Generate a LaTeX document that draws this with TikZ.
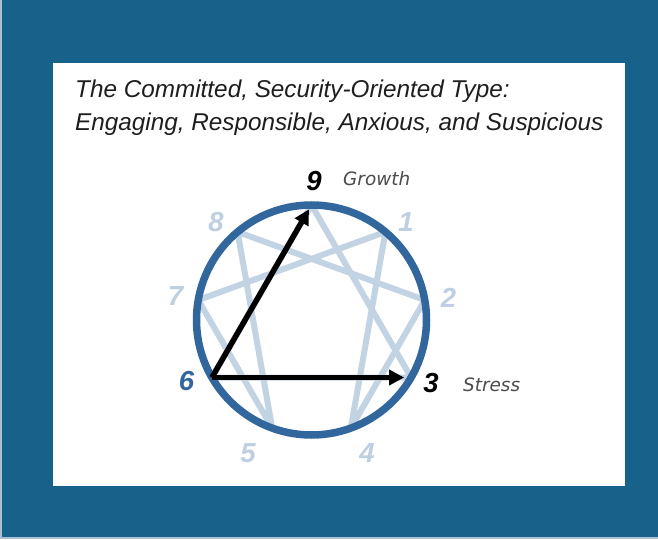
\documentclass[tikz,border=0pt]{standalone}
\usepackage{fontspec}
\setmainfont{Liberation Sans}
\newfontfamily\notefont{DejaVu Sans}
\usepackage{tikz}
\usepackage{xcolor}
\usetikzlibrary{arrows.meta,calc}
\definecolor{frameblue}{RGB}{22,98,138}
\definecolor{edgegrey}{RGB}{172,192,208}
\definecolor{ringblue}{RGB}{50,103,157}
\definecolor{lineblue}{RGB}{194,211,227}
\definecolor{faintblue}{RGB}{190,207,226}
\definecolor{titlegrey}{RGB}{30,30,30}
\definecolor{notegrey}{RGB}{75,75,75}
\tikzset{
    title-text/.style = {anchor=base west, inner sep=0pt, text=titlegrey, font=\fontsize{24.3}{28}\selectfont\itshape},
    point-label/.style = {inner sep=0pt, font=\fontsize{27.5}{30}\selectfont\bfseries\itshape},
    dim-label/.style = {point-label, text=faintblue},
    note-text/.style = {anchor=base west, inner sep=0pt, text=notegrey, font=\notefont\fontsize{18.4}{20}\selectfont\itshape},
    ring-line/.style = {draw=ringblue, line width=7.5pt},
    star-line/.style = {draw=lineblue, line width=6pt, line join=round},
    move-arrow/.style = {draw=black, line width=5.5pt, -{Triangle[length=15pt,width=15pt]}},
}

\begin{document}
\begin{tikzpicture}[x=1pt,y=1pt]
\useasboundingbox (0,0) rectangle (658,539);
\fill[edgegrey] (0,0) rectangle (658,539);
\fill[frameblue] (2,2) rectangle (658,539);
\fill[white] (52.5,53.5) rectangle (625,476);
% title
\node[title-text] (title1) at (75,441) {The Committed, Security-Oriented Type:};
\node[title-text] (title2) at (75,408) {Engaging, Responsible, Anxious, and Suspicious};
% enneagram
\coordinate (c) at (311.5,219);
\foreach \k in {1,...,9}
    \coordinate (p\k) at ($(c)+({90-40*\k}:115pt)$);
\draw[star-line] (p1) -- (p4) -- (p2) -- (p8) -- (p5) -- (p7) -- cycle;
\draw[star-line] (p9) -- (p3) -- (p6) -- cycle;
\draw[ring-line] (c) circle (115pt);
\draw[move-arrow, shorten >=5pt] (p6) -- (p9);
\draw[move-arrow, shorten >=7pt] (p6) -- (p3);
% labels
\node[point-label] (n9) at (314,358) {9};
\node[note-text] (growth) at (343,353) {Growth};
\node[point-label] (n3) at (431,156) {3};
\node[note-text] (stress) at (463,148) {Stress};
\node[point-label, text=ringblue] (n6) at (186.5,158) {6};
\node[dim-label] (n8) at (216,316.5) {8};
\node[dim-label] (n1) at (406,317) {1};
\node[dim-label] (n2) at (448.5,241.5) {2};
\node[dim-label] (n7) at (175.5,242.5) {7};
\node[dim-label] (n5) at (248,86) {5};
\node[dim-label] (n4) at (367,86) {4};
\end{tikzpicture}
\end{document}
